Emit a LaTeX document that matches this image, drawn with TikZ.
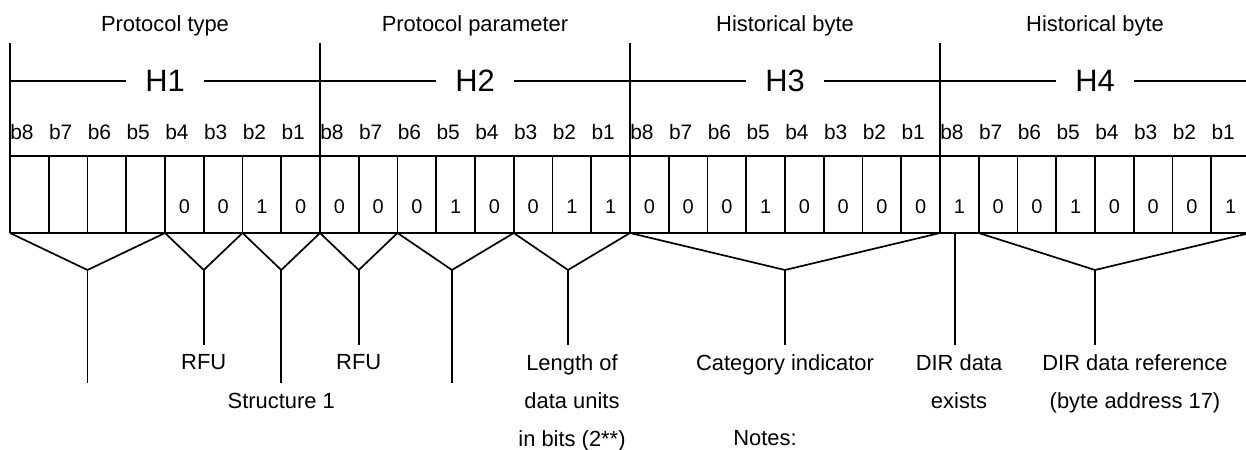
\documentclass[tikz,border=0pt]{standalone}
\usepackage{fontspec}
\setmainfont{Liberation Sans}

\begin{document}
\begin{tikzpicture}[x=1bp,y=-1bp,line width=1.7bp,
    toplabel/.style={anchor=base,font=\fontsize{22}{26}\selectfont},
    bytename/.style={fill=white,inner xsep=19bp,inner ysep=0pt,font=\fontsize{31}{36}\selectfont},
    bitlabel/.style={font=\fontsize{21}{25}\selectfont},
    digit/.style={font=\fontsize{20}{24}\selectfont},
    note/.style={anchor=north,inner sep=0pt,align=center,font=\fontsize{22}{38}\selectfont},
    stem/.style={shorten >=9bp}]
  \useasboundingbox (0,0) rectangle (1246,450);

  % byte header line
  \draw (10,81) -- (1250,81);
  \foreach \b/\name/\what in {0/H1/Protocol type, 1/H2/Protocol parameter,
                              2/H3/Historical byte, 3/H4/Historical byte} {
    \pgfmathsetmacro\bx{10+310*\b}
    \draw (\bx,43) -- (\bx,233);
    \node[toplabel] (what\name) at (\bx+155,32) {\what};
    \node[bytename] (\name) at (\bx+155,81) {\name};
  }

  % bit rows
  \draw (10,156) -- (1250,156);
  \draw (10,233) -- (1250,233);
  \foreach \i in {1,...,31}
    \draw (10+38.75*\i,156) -- ++(0,77);
  \foreach \i in {0,...,31} {
    \pgfmathtruncatemacro\k{8-mod(\i,8)}
    \node[bitlabel] (bit\i) at (10+38.75*\i+11.9,132) {b\k};
  }
  \foreach \v [count=\i from 4] in {0,0,1,0, 0,0,0,1,0,0,1,1,
                                    0,0,0,1,0,0,0,0, 1,0,0,1,0,0,0,1}
    \node[digit] (val\i) at (10+38.75*\i+19.375,207) {\v};

  % brackets under the bits
  \foreach \l/\r/\ax/\n in {0/4/87.5/1, 4/6/203.75/2, 6/8/281.25/3, 8/10/358.75/4,
                            10/13/452/5, 13/16/568/6, 16/24/785/7, 25/32/1095/8} {
    \coordinate (apex\n) at (\ax,270);
    \draw (10+38.75*\l,233) -- (apex\n) -- (10+38.75*\r,233);
  }
  \coordinate (dirbit) at (955,233);

  % meanings
  \node[note] (rfuA) at (203.75,354) {RFU};
  \node[note] (struct) at (281.25,392) {Structure 1};
  \node[note] (rfuB) at (358.75,354) {RFU};
  \node[note] (unitlen) at (572,354) {Length of\\data units\\in bits (2**)};
  \node[note] (category) at (785,354) {Category indicator};
  \node[note] (direx) at (959,354) {DIR data\\exists};
  \node[note] (dirref) at (1135,354) {DIR data reference\\(byte address 17)};
  \node[font=\fontsize{22}{26}\selectfont] (notes) at (765,438) {Notes:};

  \coordinate (end1) at (87.5,383);
  \coordinate (end5) at (452,383);
  \draw (apex1) -- (end1);
  \draw (apex5) -- (end5);
  \draw[stem] (apex2) -- (apex2 |- rfuA.north);
  \draw[stem] (apex3) -- (apex3 |- struct.north);
  \draw[stem] (apex4) -- (apex4 |- rfuB.north);
  \draw[stem] (apex6) -- (apex6 |- unitlen.north);
  \draw[stem] (apex7) -- (apex7 |- category.north);
  \draw[stem] (dirbit) -- (dirbit |- direx.north);
  \draw[stem] (apex8) -- (apex8 |- dirref.north);
\end{tikzpicture}
\end{document}
